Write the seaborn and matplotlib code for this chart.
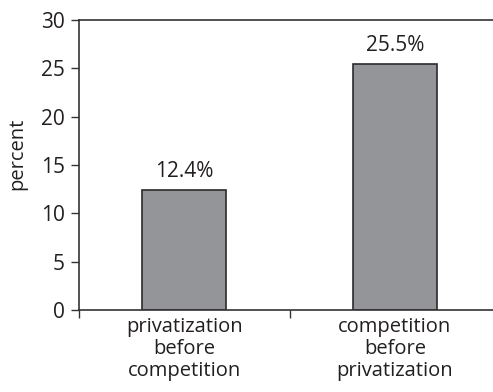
import matplotlib
matplotlib.use("Agg")
import matplotlib.pyplot as plt
import seaborn as sns
import pandas as pd

categories = ["privatization\nbefore\ncompetition", "competition\nbefore\nprivatization"]
values = [12.4, 25.5]
value_labels = ["12.4%", "25.5%"]
y_ticks = [0, 5, 10, 15, 20, 25, 30]

sns.set_style("white")
plt.rcParams["font.family"] = ["Open Sans", "DejaVu Sans"]

text_color = "#231f20"
line_color = "#333333"

df = pd.DataFrame({"category": categories, "percent": values})

W, H = 493, 392
fig = plt.figure(figsize=(W / 100, H / 100), dpi=100)
ax = fig.add_axes([79 / W, 1 - 310 / H, 421 / W, 290 / H])

sns.barplot(data=df, x="category", y="percent", ax=ax, width=0.4,
            color="#939598", saturation=1, edgecolor="#2b2b2b", linewidth=1.2)

ax.set_xlim(-0.5, 1.5)
ax.set_ylim(0, 30)
ax.set_yticks(y_ticks)
ax.set_yticklabels([str(t) for t in y_ticks], fontsize=15, color=text_color)
ax.tick_params(axis="y", direction="out", length=6, width=1, color=line_color, pad=4, left=True)

# boundary ticks on the category axis, labels centred under each bar
ax.set_xticks([-0.5, 0.5, 1.5])
ax.set_xticklabels(["", "", ""])
ax.tick_params(axis="x", which="major", direction="out", length=6, width=1, color=line_color, bottom=True)
ax.set_xticks([0, 1], minor=True)
ax.set_xticklabels(categories, minor=True, fontsize=14.5, color=text_color, linespacing=1.12)
ax.tick_params(axis="x", which="minor", length=0, pad=5)

ax.set_xlabel("")
ax.set_ylabel("percent", fontsize=14.5, color=text_color)
ax.yaxis.set_label_coords(-52 / 421, 0.54)

for side in ["left", "bottom", "top"]:
    ax.spines[side].set_visible(True)
    ax.spines[side].set_color(line_color)
    ax.spines[side].set_linewidth(1.2)
ax.spines["right"].set_visible(False)

for i, (v, lab) in enumerate(zip(values, value_labels)):
    ax.text(i, v + 0.8, lab, ha="center", va="bottom", fontsize=15, color=text_color)

fig.savefig("out.png", dpi=100)
